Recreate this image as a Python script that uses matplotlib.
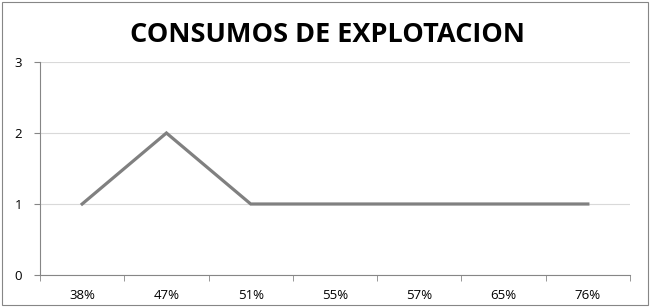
import numpy as np
import matplotlib.pyplot as plt
from matplotlib.patches import Rectangle

categories = ['38%', '47%', '51%', '55%', '57%', '65%', '76%']
values = [1, 2, 1, 1, 1, 1, 1]
yticks = [0, 1, 2, 3]

plt.rcParams['font.family'] = ['Open Sans', 'DejaVu Sans']

fig = plt.figure(figsize=(6.51, 3.07), dpi=100)
ax = fig.add_axes([40 / 651, 1 - 275 / 307, 590 / 651, 213 / 307])

x = np.arange(len(categories))
ax.plot(x, values, color='#808080', lw=2.3, solid_joinstyle='miter', zorder=3)

ax.set_xlim(-0.5, len(categories) - 0.5)
ax.set_ylim(0, 3)
ax.set_yticks(yticks)
ax.set_yticklabels([str(v) for v in yticks], fontsize=9.5)
ax.set_xticks(x)
ax.set_xticklabels(categories, fontsize=9.5)
ax.set_xticks(np.arange(-0.5, len(categories)), minor=True)
ax.tick_params(axis='x', which='major', length=0, pad=10)
ax.tick_params(axis='x', which='minor', length=4, color='#868686')
ax.tick_params(axis='y', length=4, color='#868686', pad=9)
ax.grid(axis='y', color='#d9d9d9', lw=0.8, zorder=0)
for s in ['top', 'right']:
    ax.spines[s].set_visible(False)
for s in ['left', 'bottom']:
    ax.spines[s].set_color('#868686')
    ax.spines[s].set_linewidth(0.8)

fig.text(327 / 651, 1 - 35 / 307, 'CONSUMOS DE EXPLOTACION', ha='center', va='center',
         fontsize=19.5, fontweight='bold')

fig.patches.append(Rectangle((2 / 651, 2 / 307), 646 / 651, 303 / 307, transform=fig.transFigure,
                             fill=False, edgecolor='#868686', lw=0.8))

fig.savefig('out.png', dpi=100)
